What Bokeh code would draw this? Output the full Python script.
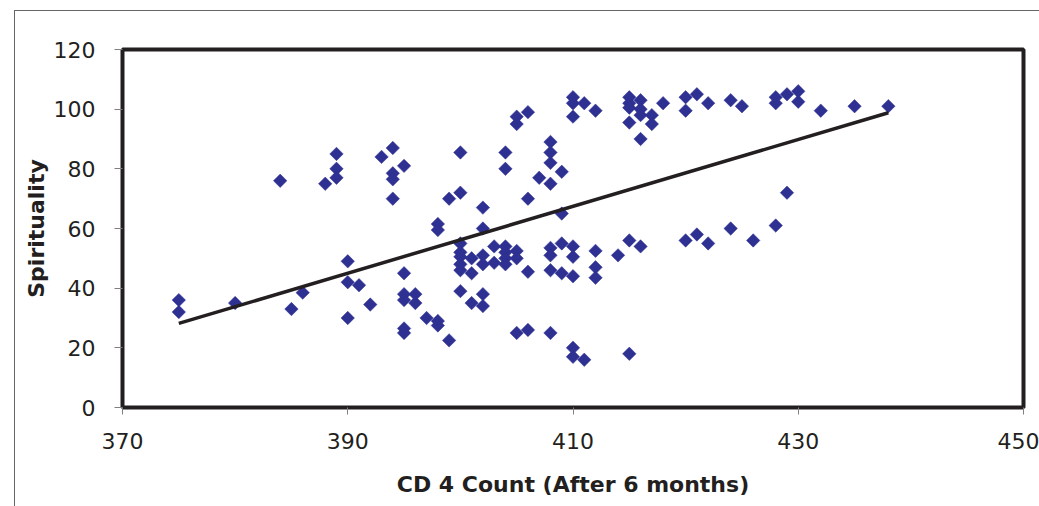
import numpy as np
from bokeh.plotting import figure
from bokeh.models import FixedTicker, Range1d
from bokeh.embed import file_html
from bokeh.resources import INLINE

# CD4 count after 6 months (x) and spirituality score (y)
cd4 = [375, 375, 380, 384, 385, 386, 388, 389, 389, 389,
       390, 390, 391, 392, 390, 393, 394, 395, 394, 394,
       394, 395, 395, 396, 395, 396, 397, 398, 398, 399,
       395, 395, 398, 398, 399, 400, 400, 400, 400, 400,
       400, 400, 401, 401, 402, 402, 402, 402, 403, 403,
       404, 404, 404, 404, 405, 405, 406, 404, 404, 405,
       405, 406, 406, 407, 408, 408, 408, 408, 409, 409,
       400, 402, 401, 402, 405, 406, 408, 410, 410, 411,
       415, 408, 408, 408, 409, 410, 410, 409, 410, 412,
       412, 412, 414, 415, 416, 410, 410, 411, 412, 410,
       415, 415, 416, 416, 415, 417, 416, 415, 417, 416,
       418, 420, 421, 422, 420, 424, 425, 428, 428, 429,
       430, 430, 432, 435, 438, 429, 428, 420, 421, 422,
       424, 426]
spirit = [36, 32, 35, 76, 33, 38.5, 75, 85, 80, 77,
          49, 42, 41, 34.5, 30, 84, 87, 81, 78.5, 76.5,
          70, 45, 38, 38, 36, 35, 30, 29, 27.5, 22.5,
          26.5, 25, 61.5, 59.5, 70, 72, 85.5, 55, 52, 50.5,
          48, 46, 50, 45, 51, 48, 67, 60, 54, 48.5,
          54, 52, 50, 48, 52.5, 50, 45.5, 85.5, 80, 97.5,
          95, 99, 70, 77, 75, 82, 85.5, 89, 79, 65,
          39, 38, 35, 34, 25, 26, 25, 20, 17, 16,
          18, 53.5, 51, 46, 55, 54, 50.5, 45, 44, 52.5,
          47, 43.5, 51, 56, 54, 104, 102, 102, 99.5, 97.5,
          104, 102, 103, 100, 100.5, 98, 98, 95.5, 95, 90,
          102, 104, 105, 102, 99.5, 103, 101, 104, 102, 105,
          106, 102.5, 99.5, 101, 101, 72, 61, 56, 58, 55,
          60, 56]

# Linear trend line end points
trend_x = [375, 438]
trend_y = [28.2, 98.8]

x_ticks = [370, 390, 410, 430, 450]
y_ticks = [0, 20, 40, 60, 80, 100, 120]

TXT = "#231f20"
FONT = "DejaVu Sans"

p = figure(width=1039, height=506, output_backend="svg", toolbar_location=None,
           x_range=Range1d(370, 450), y_range=Range1d(0, 120),
           min_border_left=122, min_border_right=16, min_border_top=49, min_border_bottom=99)
p.background_fill_color = "white"
p.border_fill_color = None
p.outline_line_color = TXT
p.outline_line_width = 4
p.xgrid.visible = False
p.ygrid.visible = False
# thin outer chart-area border along the left and top edges
p.styles = {"box-shadow": "inset 14px 10px 0 0 #ffffff, inset 15px 11px 0 0 #666666",
            "background-color": "#ffffff"}

p.scatter(cd4, spirit, marker="square", size=9.5, angle=np.pi / 4,
          fill_color="#2e3192", line_color="#2e3192", line_width=0.5)
p.line(trend_x, trend_y, line_width=3.5, line_color=TXT)

for ax in (p.xaxis[0], p.yaxis[0]):
    ax.axis_line_color = None
    ax.major_tick_line_color = "#808080"
    ax.major_tick_line_width = 1
    ax.major_tick_in = 0
    ax.minor_tick_line_color = None
    ax.major_label_text_font = FONT
    ax.major_label_text_font_size = "22px"
    ax.major_label_text_color = TXT
    ax.axis_label_text_font = FONT
    ax.axis_label_text_font_size = "22px"
    ax.axis_label_text_font_style = "bold"
    ax.axis_label_text_color = TXT

p.xaxis.ticker = FixedTicker(ticks=x_ticks)
p.yaxis.ticker = FixedTicker(ticks=y_ticks)
p.xaxis.major_tick_out = 7
p.yaxis.major_tick_out = 8
p.xaxis.major_label_standoff = 18
p.yaxis.major_label_standoff = 19
p.xaxis.axis_label = "CD 4 Count (After 6 months)"
p.yaxis.axis_label = "Spirituality"
p.xaxis.axis_label_standoff = 20
p.yaxis.axis_label_standoff = 2

open("out.html", "w").write(file_html(p, INLINE))
